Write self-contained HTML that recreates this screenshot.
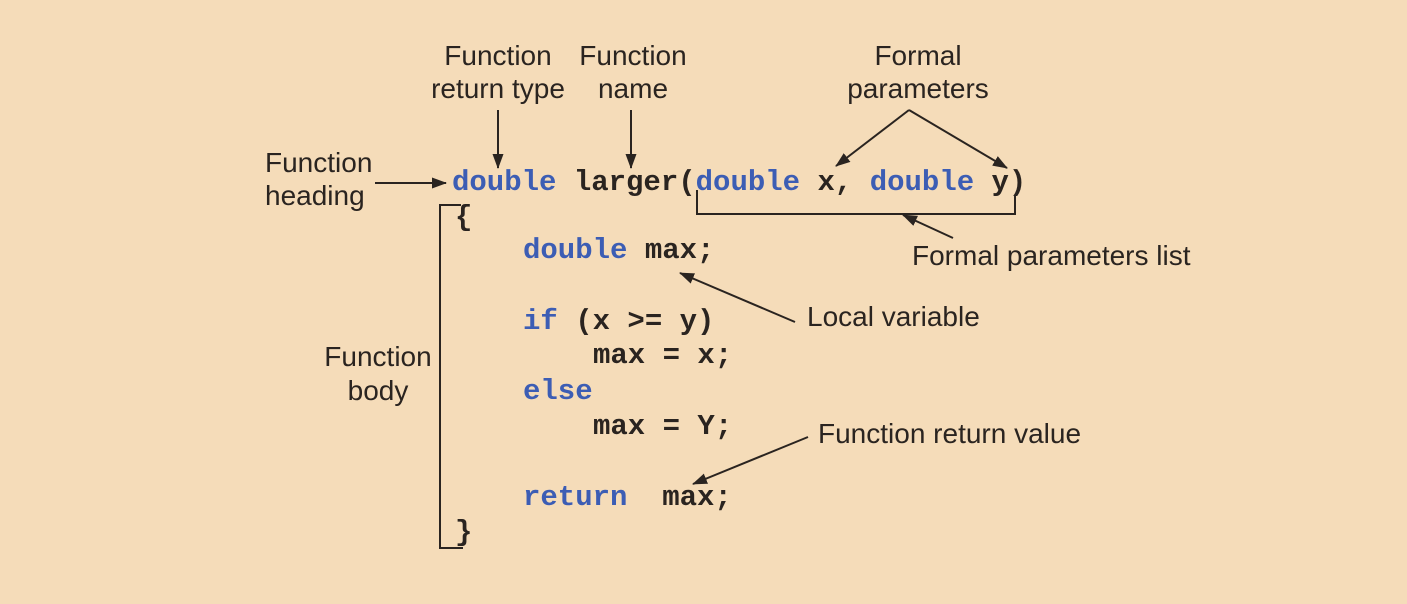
<!DOCTYPE html>
<html><head><meta charset="utf-8"><style>
html,body{margin:0;padding:0;background:#f5dcb9;}
svg{display:block}
.l{font-family:"Liberation Sans",sans-serif;font-size:28px;fill:#2a2420}
.c{font-family:"Liberation Mono","Courier New",monospace;font-size:29px;font-weight:bold;fill:#2a2420;white-space:pre}
.k{fill:#3c5db4}
</style></head><body>
<svg width="1407" height="604" viewBox="0 0 1407 604" xmlns="http://www.w3.org/2000/svg">
<defs><marker id="a" markerWidth="16" markerHeight="12" refX="14" refY="5.5" orient="auto" markerUnits="userSpaceOnUse"><path d="M0,0 L15,5.5 L0,11 Z" fill="#2a2420"/></marker></defs>
<rect width="1407" height="604" fill="#f5dcb9"/>
<g class="l" text-anchor="middle">
<text x="498" y="65">Function</text><text x="498" y="98">return type</text>
<text x="633" y="65">Function</text><text x="633" y="98">name</text>
<text x="918" y="65">Formal</text><text x="918" y="98">parameters</text>
<text x="378" y="366">Function</text><text x="378" y="400">body</text>
</g>
<g class="l">
<text x="265" y="172">Function</text><text x="265" y="205">heading</text>
<text x="912" y="265">Formal parameters list</text>
<text x="807" y="326">Local variable</text>
<text x="818" y="443">Function return value</text>
</g>
<g stroke="#2a2420" stroke-width="2" fill="none">
<line x1="375" y1="183" x2="446" y2="183" marker-end="url(#a)"/>
<line x1="498" y1="110" x2="498" y2="168" marker-end="url(#a)"/>
<line x1="631" y1="110" x2="631" y2="168" marker-end="url(#a)"/>
<line x1="909" y1="110" x2="836" y2="166" marker-end="url(#a)"/>
<line x1="909" y1="110" x2="1007" y2="168" marker-end="url(#a)"/>
<polyline points="697,190 697,214 1015,214 1015,195"/>
<line x1="953" y1="238" x2="903" y2="215" marker-end="url(#a)"/>
<line x1="795" y1="322" x2="680" y2="273" marker-end="url(#a)"/>
<line x1="808" y1="437" x2="693" y2="484" marker-end="url(#a)"/>
<polyline points="461,205 440,205 440,548 463,548"/>
</g>
<g class="c">
<text x="452" y="190"><tspan class="k">double</tspan> larger(<tspan class="k">double</tspan> x, <tspan class="k">double</tspan> y)</text>
<text x="455" y="225">{</text>
<text x="523" y="258"><tspan class="k">double</tspan> max;</text>
<text x="523" y="329"><tspan class="k">if</tspan> (x &gt;= y)</text>
<text x="593" y="363">max = x;</text>
<text x="523" y="399" class="c k">else</text>
<text x="593" y="434">max = Y;</text>
<text x="523" y="505"><tspan class="k">return</tspan>&#160; max;</text>
<text x="455" y="540">}</text>
</g>
</svg>
</body></html>
